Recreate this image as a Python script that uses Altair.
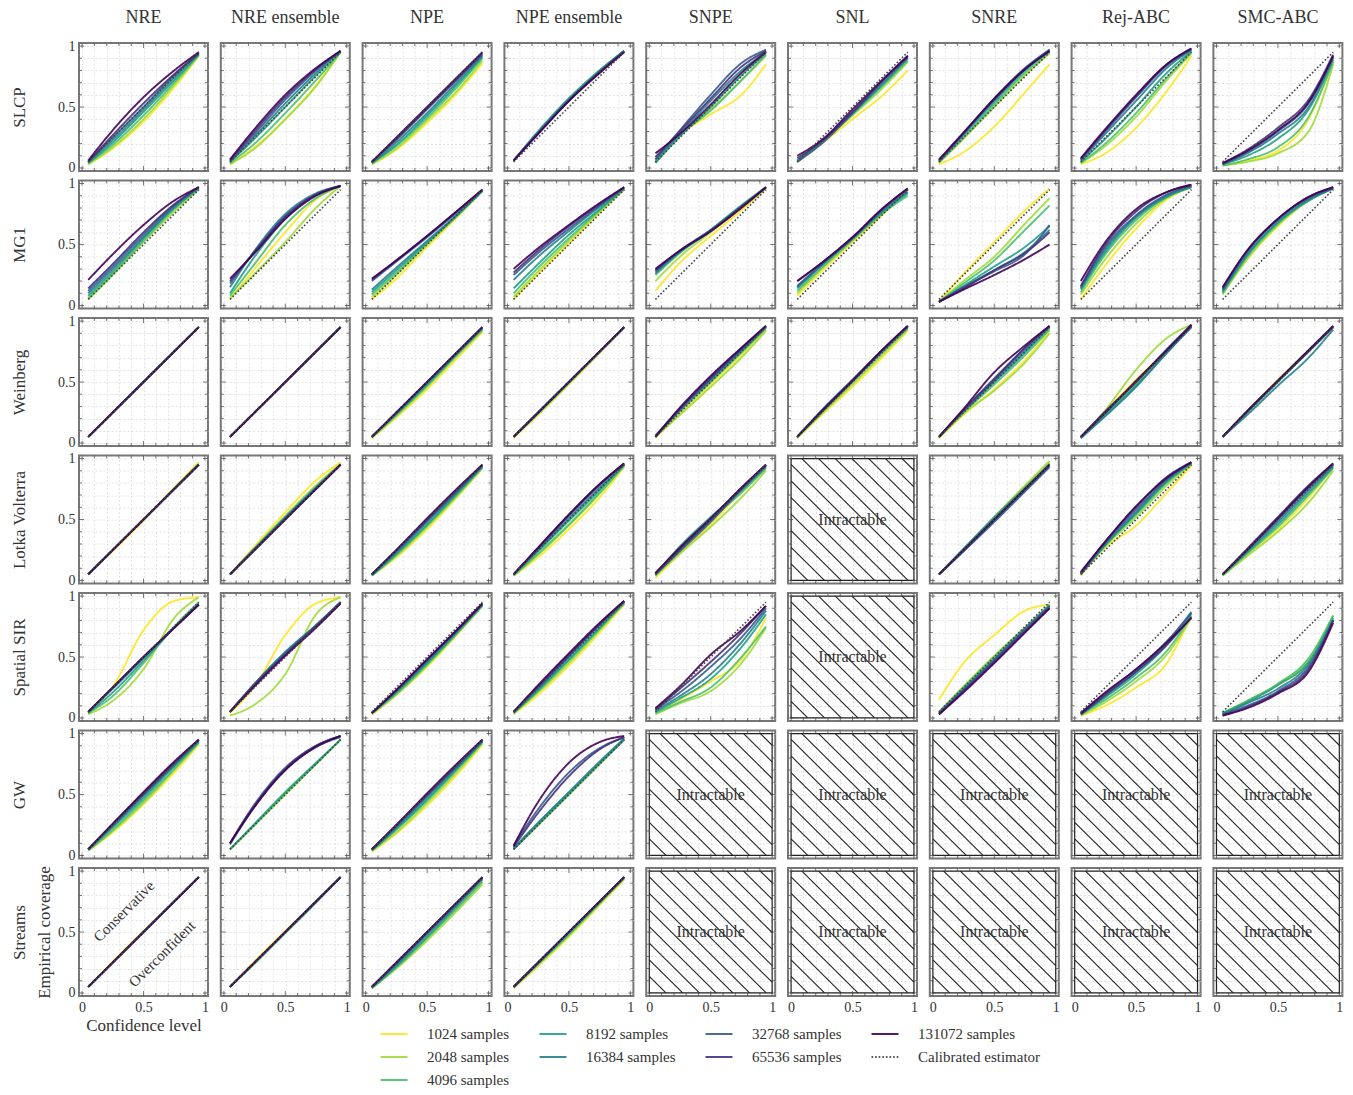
import altair as alt
import pandas as pd

METHODS = ["NRE", "NRE ensemble", "NPE", "NPE ensemble", "SNPE", "SNL", "SNRE", "Rej-ABC", "SMC-ABC"]
SIMULATORS = ["SLCP", "MG1", "Weinberg", "Lotka Volterra", "Spatial SIR", "GW", "Streams"]
BUDGETS = ["1024 samples", "2048 samples", "4096 samples", "8192 samples",
           "16384 samples", "32768 samples", "65536 samples", "131072 samples"]
COLORS = ["#fde725", "#a0da39", "#4ac16d", "#1fa187", "#277f8e", "#365c8d", "#46327e", "#440154"]
CALIB_NAME = "Calibrated estimator"
CONF = [0.05, 0.25, 0.5, 0.75, 0.95]
CALIB = [0.05, 0.95]

# empirical coverage at CONF levels, one list per budget (1024 -> 131072)
SLCP = {
    "NRE": [[0.03, 0.16, 0.38, 0.66, 0.92], [0.03, 0.17, 0.40, 0.68, 0.92], [0.04, 0.19, 0.43, 0.70, 0.93], [0.04, 0.21, 0.46, 0.72, 0.93],
            [0.05, 0.23, 0.48, 0.74, 0.94], [0.05, 0.25, 0.50, 0.76, 0.94], [0.05, 0.27, 0.53, 0.77, 0.94], [0.06, 0.31, 0.58, 0.80, 0.95]],
    "NRE ensemble": [[0.03, 0.17, 0.40, 0.68, 0.95], [0.03, 0.16, 0.40, 0.67, 0.95], [0.04, 0.20, 0.45, 0.72, 0.95], [0.05, 0.24, 0.50, 0.76, 0.95],
                     [0.05, 0.26, 0.53, 0.78, 0.96], [0.06, 0.28, 0.56, 0.80, 0.96], [0.06, 0.30, 0.58, 0.81, 0.96], [0.07, 0.32, 0.60, 0.82, 0.96]],
    "NPE": [[0.03, 0.15, 0.37, 0.62, 0.86], [0.03, 0.16, 0.39, 0.64, 0.88], [0.04, 0.18, 0.41, 0.67, 0.90], [0.04, 0.19, 0.43, 0.69, 0.91],
            [0.04, 0.21, 0.45, 0.71, 0.92], [0.05, 0.23, 0.48, 0.73, 0.93], [0.05, 0.24, 0.49, 0.74, 0.94], [0.05, 0.25, 0.50, 0.75, 0.95]],
    "NPE ensemble": [[0.06, 0.29, 0.56, 0.80, 0.96], [0.06, 0.29, 0.56, 0.80, 0.96], [0.06, 0.30, 0.57, 0.80, 0.96], [0.06, 0.30, 0.57, 0.80, 0.96],
                     [0.06, 0.29, 0.56, 0.79, 0.96], [0.06, 0.29, 0.55, 0.79, 0.96], [0.06, 0.28, 0.55, 0.78, 0.95], [0.06, 0.28, 0.55, 0.78, 0.95]],
    "SNPE": [[0.06, 0.27, 0.44, 0.60, 0.85], [0.06, 0.27, 0.48, 0.72, 0.92], [0.05, 0.27, 0.47, 0.72, 0.93], [0.04, 0.26, 0.50, 0.76, 0.94],
             [0.07, 0.28, 0.55, 0.80, 0.95], [0.07, 0.31, 0.60, 0.86, 0.97], [0.09, 0.30, 0.57, 0.83, 0.96], [0.12, 0.28, 0.52, 0.78, 0.95]],
    "SNL": [[0.05, 0.20, 0.40, 0.60, 0.80], [0.05, 0.21, 0.43, 0.66, 0.87], [0.06, 0.22, 0.44, 0.68, 0.88], [0.05, 0.22, 0.45, 0.69, 0.90],
            [0.06, 0.22, 0.45, 0.70, 0.90], [0.05, 0.20, 0.45, 0.72, 0.92], [0.08, 0.22, 0.46, 0.72, 0.91], [0.10, 0.23, 0.48, 0.73, 0.92]],
    "SNRE": [[0.03, 0.13, 0.34, 0.62, 0.85], [0.04, 0.24, 0.50, 0.76, 0.94], [0.05, 0.25, 0.52, 0.78, 0.95], [0.05, 0.27, 0.54, 0.80, 0.96],
             [0.06, 0.28, 0.56, 0.81, 0.97], [0.06, 0.28, 0.57, 0.82, 0.97], [0.06, 0.29, 0.56, 0.81, 0.96], [0.07, 0.29, 0.57, 0.81, 0.96]],
    "Rej-ABC": [[0.03, 0.12, 0.33, 0.63, 0.92], [0.04, 0.18, 0.42, 0.72, 0.94], [0.04, 0.20, 0.45, 0.74, 0.95], [0.05, 0.24, 0.50, 0.78, 0.96],
                [0.06, 0.28, 0.55, 0.82, 0.97], [0.07, 0.30, 0.58, 0.84, 0.97], [0.07, 0.31, 0.59, 0.85, 0.98], [0.08, 0.32, 0.60, 0.85, 0.98]],
    "SMC-ABC": [[0.02, 0.06, 0.14, 0.40, 0.88], [0.02, 0.05, 0.12, 0.30, 0.85], [0.02, 0.07, 0.17, 0.42, 0.87], [0.03, 0.10, 0.24, 0.48, 0.89],
                [0.03, 0.12, 0.28, 0.50, 0.90], [0.03, 0.13, 0.30, 0.53, 0.91], [0.04, 0.15, 0.33, 0.56, 0.93], [0.04, 0.14, 0.31, 0.54, 0.92]],
}

MG1 = {
    "NRE": [[0.05, 0.26, 0.55, 0.80, 0.96], [0.05, 0.25, 0.52, 0.77, 0.95], [0.06, 0.26, 0.53, 0.79, 0.96], [0.08, 0.28, 0.55, 0.80, 0.96],
            [0.10, 0.30, 0.56, 0.81, 0.97], [0.12, 0.32, 0.58, 0.82, 0.97], [0.14, 0.34, 0.60, 0.83, 0.97], [0.21, 0.42, 0.66, 0.86, 0.97]],
    "NRE ensemble": [[0.05, 0.30, 0.60, 0.87, 0.98], [0.06, 0.26, 0.52, 0.80, 0.98], [0.08, 0.34, 0.66, 0.88, 0.98], [0.10, 0.40, 0.71, 0.91, 0.98],
                     [0.15, 0.45, 0.75, 0.92, 0.98], [0.18, 0.44, 0.73, 0.91, 0.98], [0.20, 0.44, 0.73, 0.91, 0.98], [0.22, 0.43, 0.71, 0.90, 0.98]],
    "NPE": [[0.05, 0.22, 0.48, 0.73, 0.94], [0.07, 0.25, 0.50, 0.74, 0.94], [0.09, 0.27, 0.51, 0.74, 0.94], [0.11, 0.29, 0.52, 0.75, 0.94],
            [0.13, 0.31, 0.53, 0.75, 0.94], [0.20, 0.36, 0.56, 0.77, 0.95], [0.21, 0.37, 0.57, 0.78, 0.95], [0.22, 0.37, 0.57, 0.78, 0.95]],
    "NPE ensemble": [[0.05, 0.26, 0.51, 0.76, 0.95], [0.07, 0.28, 0.53, 0.77, 0.95], [0.10, 0.31, 0.55, 0.78, 0.96], [0.14, 0.34, 0.58, 0.79, 0.96],
                     [0.21, 0.40, 0.61, 0.81, 0.96], [0.25, 0.43, 0.63, 0.82, 0.97], [0.27, 0.45, 0.65, 0.83, 0.97], [0.30, 0.47, 0.66, 0.84, 0.97]],
    "SNPE": [[0.12, 0.35, 0.57, 0.78, 0.96], [0.20, 0.40, 0.60, 0.80, 0.96], [0.25, 0.43, 0.62, 0.82, 0.97], [0.26, 0.44, 0.62, 0.82, 0.97],
             [0.27, 0.44, 0.61, 0.81, 0.97], [0.28, 0.45, 0.62, 0.81, 0.97], [0.29, 0.45, 0.61, 0.81, 0.97], [0.30, 0.45, 0.61, 0.80, 0.97]],
    "SNL": [[0.08, 0.28, 0.52, 0.75, 0.95], [0.10, 0.30, 0.53, 0.76, 0.94], [0.12, 0.31, 0.54, 0.76, 0.90], [0.14, 0.33, 0.55, 0.77, 0.92],
            [0.15, 0.33, 0.55, 0.78, 0.93], [0.16, 0.34, 0.55, 0.79, 0.95], [0.20, 0.35, 0.56, 0.80, 0.96], [0.20, 0.35, 0.56, 0.80, 0.96]],
    "SNRE": [[0.03, 0.26, 0.52, 0.78, 0.96], [0.03, 0.20, 0.40, 0.67, 0.88], [0.03, 0.18, 0.37, 0.62, 0.82], [0.03, 0.16, 0.32, 0.48, 0.65],
             [0.03, 0.15, 0.29, 0.44, 0.62], [0.03, 0.15, 0.28, 0.42, 0.66], [0.03, 0.14, 0.29, 0.43, 0.60], [0.03, 0.13, 0.25, 0.38, 0.50]],
    "Rej-ABC": [[0.05, 0.33, 0.63, 0.87, 0.97], [0.09, 0.38, 0.67, 0.88, 0.97], [0.11, 0.42, 0.70, 0.89, 0.97], [0.13, 0.44, 0.72, 0.89, 0.97],
                [0.14, 0.46, 0.73, 0.90, 0.98], [0.15, 0.48, 0.74, 0.91, 0.98], [0.16, 0.50, 0.77, 0.93, 0.99], [0.20, 0.52, 0.79, 0.93, 0.99]],
    "SMC-ABC": [[0.10, 0.38, 0.65, 0.86, 0.96], [0.09, 0.38, 0.66, 0.86, 0.96], [0.10, 0.40, 0.67, 0.86, 0.96], [0.11, 0.41, 0.68, 0.86, 0.96],
                [0.12, 0.42, 0.69, 0.87, 0.96], [0.13, 0.44, 0.71, 0.88, 0.96], [0.14, 0.45, 0.71, 0.89, 0.97], [0.15, 0.45, 0.71, 0.89, 0.97]],
}

WEINBERG = {
    "NRE": [[0.05, 0.25, 0.50, 0.75, 0.95], [0.05, 0.25, 0.50, 0.75, 0.95], [0.05, 0.25, 0.50, 0.75, 0.95], [0.05, 0.25, 0.50, 0.75, 0.95],
            [0.05, 0.25, 0.50, 0.75, 0.95], [0.05, 0.25, 0.50, 0.75, 0.95], [0.05, 0.25, 0.50, 0.75, 0.95], [0.05, 0.25, 0.50, 0.75, 0.95]],
    "NRE ensemble": [[0.05, 0.25, 0.50, 0.75, 0.95], [0.05, 0.25, 0.50, 0.75, 0.95], [0.05, 0.25, 0.50, 0.75, 0.95], [0.05, 0.25, 0.50, 0.75, 0.95],
                     [0.05, 0.25, 0.50, 0.75, 0.95], [0.05, 0.25, 0.50, 0.75, 0.95], [0.05, 0.25, 0.50, 0.75, 0.95], [0.05, 0.25, 0.50, 0.75, 0.95]],
    "NPE": [[0.04, 0.21, 0.44, 0.70, 0.91], [0.04, 0.22, 0.46, 0.72, 0.92], [0.05, 0.23, 0.47, 0.73, 0.93], [0.05, 0.24, 0.48, 0.74, 0.94],
            [0.05, 0.24, 0.49, 0.74, 0.94], [0.05, 0.25, 0.50, 0.75, 0.95], [0.05, 0.25, 0.50, 0.75, 0.95], [0.05, 0.25, 0.50, 0.75, 0.95]],
    "NPE ensemble": [[0.04, 0.23, 0.48, 0.74, 0.95], [0.05, 0.24, 0.49, 0.74, 0.95], [0.05, 0.24, 0.49, 0.75, 0.95], [0.05, 0.25, 0.50, 0.75, 0.95],
                     [0.05, 0.25, 0.50, 0.75, 0.95], [0.05, 0.25, 0.50, 0.75, 0.95], [0.05, 0.25, 0.50, 0.75, 0.95], [0.05, 0.25, 0.50, 0.75, 0.95]],
    "SNPE": [[0.04, 0.24, 0.48, 0.72, 0.93], [0.05, 0.23, 0.46, 0.70, 0.92], [0.05, 0.26, 0.50, 0.74, 0.94], [0.05, 0.27, 0.51, 0.75, 0.95],
             [0.06, 0.27, 0.52, 0.76, 0.95], [0.06, 0.28, 0.54, 0.78, 0.96], [0.05, 0.28, 0.53, 0.77, 0.96], [0.05, 0.29, 0.55, 0.78, 0.96]],
    "SNL": [[0.04, 0.23, 0.46, 0.71, 0.92], [0.04, 0.24, 0.48, 0.73, 0.93], [0.05, 0.25, 0.50, 0.75, 0.94], [0.05, 0.26, 0.51, 0.76, 0.95],
            [0.05, 0.26, 0.51, 0.76, 0.95], [0.05, 0.27, 0.52, 0.77, 0.96], [0.05, 0.26, 0.51, 0.77, 0.96], [0.05, 0.26, 0.51, 0.77, 0.96]],
    "SNRE": [[0.04, 0.23, 0.44, 0.68, 0.92], [0.04, 0.24, 0.43, 0.66, 0.90], [0.05, 0.25, 0.48, 0.72, 0.93], [0.05, 0.26, 0.50, 0.74, 0.95],
             [0.05, 0.26, 0.51, 0.76, 0.95], [0.05, 0.27, 0.53, 0.78, 0.96], [0.05, 0.27, 0.52, 0.78, 0.96], [0.05, 0.28, 0.58, 0.80, 0.96]],
    "Rej-ABC": [[0.04, 0.26, 0.52, 0.76, 0.96], [0.04, 0.27, 0.60, 0.86, 0.97], [0.04, 0.24, 0.48, 0.74, 0.95], [0.04, 0.23, 0.47, 0.74, 0.96],
                [0.04, 0.22, 0.46, 0.74, 0.95], [0.05, 0.25, 0.50, 0.77, 0.97], [0.05, 0.26, 0.50, 0.76, 0.96], [0.05, 0.25, 0.51, 0.76, 0.97]],
    "SMC-ABC": [[0.05, 0.26, 0.52, 0.76, 0.95], [0.05, 0.25, 0.51, 0.75, 0.95], [0.05, 0.26, 0.51, 0.76, 0.95], [0.05, 0.25, 0.50, 0.75, 0.95],
                [0.05, 0.23, 0.47, 0.70, 0.93], [0.05, 0.26, 0.51, 0.75, 0.95], [0.05, 0.26, 0.51, 0.76, 0.96], [0.05, 0.26, 0.51, 0.76, 0.96]],
}

LOTKA = {
    "NRE": [[0.05, 0.24, 0.49, 0.76, 0.97], [0.05, 0.25, 0.50, 0.76, 0.96], [0.05, 0.25, 0.50, 0.75, 0.95], [0.05, 0.25, 0.50, 0.75, 0.95],
            [0.05, 0.25, 0.50, 0.75, 0.95], [0.05, 0.25, 0.50, 0.75, 0.95], [0.05, 0.25, 0.50, 0.75, 0.95], [0.05, 0.25, 0.50, 0.75, 0.95]],
    "NRE ensemble": [[0.05, 0.28, 0.56, 0.82, 0.97], [0.05, 0.27, 0.53, 0.78, 0.96], [0.05, 0.26, 0.52, 0.77, 0.95], [0.05, 0.26, 0.52, 0.76, 0.95],
                     [0.05, 0.26, 0.51, 0.76, 0.95], [0.05, 0.25, 0.51, 0.75, 0.95], [0.05, 0.25, 0.50, 0.75, 0.95], [0.05, 0.25, 0.50, 0.75, 0.95]],
    "NPE": [[0.04, 0.19, 0.42, 0.69, 0.92], [0.04, 0.20, 0.44, 0.70, 0.92], [0.04, 0.21, 0.45, 0.71, 0.93], [0.04, 0.22, 0.46, 0.72, 0.93],
            [0.05, 0.23, 0.48, 0.73, 0.94], [0.05, 0.24, 0.49, 0.74, 0.94], [0.05, 0.25, 0.50, 0.75, 0.95], [0.05, 0.25, 0.51, 0.76, 0.95]],
    "NPE ensemble": [[0.04, 0.19, 0.42, 0.68, 0.93], [0.04, 0.21, 0.45, 0.71, 0.94], [0.04, 0.22, 0.46, 0.72, 0.94], [0.05, 0.24, 0.49, 0.74, 0.95],
                     [0.05, 0.25, 0.51, 0.76, 0.95], [0.05, 0.26, 0.53, 0.78, 0.96], [0.05, 0.27, 0.54, 0.79, 0.96], [0.05, 0.27, 0.54, 0.79, 0.96]],
    "SNPE": [[0.02, 0.22, 0.46, 0.73, 0.93], [0.04, 0.22, 0.44, 0.68, 0.90], [0.04, 0.25, 0.50, 0.72, 0.92], [0.05, 0.28, 0.52, 0.74, 0.93],
             [0.05, 0.25, 0.49, 0.74, 0.94], [0.05, 0.24, 0.48, 0.75, 0.94], [0.06, 0.26, 0.50, 0.76, 0.95], [0.06, 0.27, 0.51, 0.76, 0.95]],
    "SNRE": [[0.05, 0.25, 0.51, 0.77, 0.97], [0.05, 0.25, 0.52, 0.78, 0.98], [0.05, 0.26, 0.51, 0.76, 0.96], [0.05, 0.26, 0.52, 0.76, 0.95],
             [0.05, 0.24, 0.49, 0.74, 0.94], [0.05, 0.24, 0.48, 0.73, 0.93], [0.05, 0.25, 0.50, 0.75, 0.95], [0.05, 0.25, 0.50, 0.75, 0.95]],
    "Rej-ABC": [[0.04, 0.27, 0.45, 0.72, 0.94], [0.05, 0.28, 0.52, 0.78, 0.95], [0.05, 0.29, 0.54, 0.80, 0.96], [0.05, 0.29, 0.55, 0.81, 0.96],
                [0.05, 0.30, 0.56, 0.82, 0.96], [0.06, 0.31, 0.58, 0.83, 0.97], [0.06, 0.32, 0.60, 0.85, 0.97], [0.07, 0.32, 0.61, 0.84, 0.97]],
    "SMC-ABC": [[0.04, 0.21, 0.42, 0.68, 0.93], [0.04, 0.20, 0.40, 0.64, 0.90], [0.04, 0.22, 0.44, 0.70, 0.92], [0.05, 0.23, 0.46, 0.72, 0.93],
                [0.05, 0.24, 0.48, 0.74, 0.94], [0.05, 0.25, 0.50, 0.76, 0.95], [0.05, 0.26, 0.52, 0.78, 0.96], [0.05, 0.25, 0.51, 0.77, 0.96]],
}

SPATIAL_SIR = {
    "NRE": [[0.05, 0.26, 0.72, 0.96, 0.99], [0.03, 0.14, 0.40, 0.82, 0.99], [0.04, 0.18, 0.45, 0.75, 0.95], [0.04, 0.21, 0.47, 0.74, 0.94],
            [0.05, 0.24, 0.49, 0.74, 0.93], [0.05, 0.25, 0.50, 0.74, 0.93], [0.05, 0.25, 0.50, 0.74, 0.93], [0.05, 0.25, 0.50, 0.74, 0.93]],
    "NRE ensemble": [[0.04, 0.26, 0.68, 0.94, 0.99], [0.02, 0.11, 0.36, 0.85, 0.99], [0.05, 0.27, 0.53, 0.76, 0.95], [0.05, 0.28, 0.54, 0.76, 0.95],
                     [0.05, 0.28, 0.54, 0.76, 0.95], [0.05, 0.28, 0.53, 0.76, 0.95], [0.05, 0.27, 0.52, 0.75, 0.94], [0.05, 0.26, 0.51, 0.74, 0.94]],
    "NPE": [[0.03, 0.19, 0.42, 0.69, 0.92], [0.03, 0.19, 0.43, 0.70, 0.92], [0.04, 0.20, 0.44, 0.70, 0.92], [0.04, 0.21, 0.45, 0.71, 0.93],
            [0.04, 0.22, 0.46, 0.72, 0.93], [0.04, 0.22, 0.47, 0.72, 0.93], [0.04, 0.23, 0.48, 0.73, 0.94], [0.04, 0.23, 0.48, 0.73, 0.94]],
    "NPE ensemble": [[0.03, 0.19, 0.43, 0.70, 0.93], [0.04, 0.21, 0.45, 0.72, 0.94], [0.04, 0.22, 0.47, 0.73, 0.94], [0.04, 0.23, 0.48, 0.74, 0.95],
                     [0.05, 0.24, 0.50, 0.76, 0.95], [0.05, 0.25, 0.51, 0.77, 0.96], [0.05, 0.26, 0.52, 0.77, 0.96], [0.05, 0.27, 0.53, 0.78, 0.96]],
    "SNPE": [[0.04, 0.15, 0.30, 0.48, 0.82], [0.03, 0.12, 0.22, 0.45, 0.74], [0.04, 0.13, 0.25, 0.50, 0.75], [0.05, 0.16, 0.32, 0.58, 0.85],
             [0.06, 0.18, 0.36, 0.62, 0.88], [0.07, 0.21, 0.42, 0.66, 0.90], [0.07, 0.24, 0.46, 0.70, 0.92], [0.08, 0.26, 0.52, 0.72, 0.92]],
    "SNRE": [[0.15, 0.45, 0.68, 0.88, 0.93], [0.05, 0.26, 0.51, 0.74, 0.92], [0.05, 0.25, 0.50, 0.74, 0.93], [0.04, 0.24, 0.48, 0.72, 0.92],
             [0.03, 0.23, 0.47, 0.72, 0.91], [0.04, 0.23, 0.48, 0.73, 0.92], [0.03, 0.22, 0.46, 0.71, 0.90], [0.03, 0.21, 0.45, 0.70, 0.90]],
    "Rej-ABC": [[0.02, 0.10, 0.25, 0.45, 0.85], [0.02, 0.13, 0.30, 0.52, 0.82], [0.03, 0.15, 0.33, 0.55, 0.84], [0.03, 0.17, 0.36, 0.60, 0.86],
                [0.03, 0.18, 0.38, 0.62, 0.87], [0.04, 0.20, 0.40, 0.63, 0.86], [0.03, 0.19, 0.38, 0.60, 0.83], [0.04, 0.21, 0.40, 0.62, 0.82]],
    "SMC-ABC": [[0.04, 0.14, 0.27, 0.46, 0.82], [0.04, 0.14, 0.28, 0.48, 0.84], [0.04, 0.14, 0.28, 0.49, 0.84], [0.04, 0.13, 0.27, 0.46, 0.82],
                [0.03, 0.12, 0.24, 0.44, 0.80], [0.03, 0.10, 0.22, 0.42, 0.80], [0.02, 0.09, 0.21, 0.40, 0.80], [0.02, 0.08, 0.20, 0.38, 0.78]],
}

GW = {
    "NRE": [[0.04, 0.19, 0.42, 0.68, 0.91], [0.04, 0.20, 0.43, 0.70, 0.92], [0.04, 0.21, 0.45, 0.71, 0.93], [0.05, 0.23, 0.47, 0.73, 0.93],
            [0.05, 0.24, 0.49, 0.74, 0.94], [0.05, 0.25, 0.50, 0.75, 0.95], [0.05, 0.26, 0.51, 0.76, 0.95], [0.05, 0.26, 0.52, 0.77, 0.95]],
    "NRE ensemble": [[0.05, 0.25, 0.50, 0.75, 0.95], [0.05, 0.25, 0.50, 0.75, 0.95], [0.05, 0.25, 0.51, 0.75, 0.95], [0.05, 0.26, 0.52, 0.76, 0.95],
                     [0.09, 0.40, 0.70, 0.89, 0.97], [0.10, 0.42, 0.72, 0.90, 0.98], [0.10, 0.41, 0.71, 0.90, 0.98], [0.10, 0.40, 0.70, 0.89, 0.98]],
    "NPE": [[0.03, 0.18, 0.41, 0.67, 0.91], [0.04, 0.19, 0.43, 0.69, 0.92], [0.04, 0.21, 0.45, 0.71, 0.93], [0.04, 0.22, 0.46, 0.72, 0.93],
            [0.05, 0.23, 0.48, 0.73, 0.94], [0.05, 0.24, 0.49, 0.74, 0.94], [0.05, 0.25, 0.50, 0.75, 0.95], [0.05, 0.25, 0.51, 0.76, 0.95]],
    "NPE ensemble": [[0.05, 0.25, 0.50, 0.75, 0.95], [0.05, 0.25, 0.50, 0.75, 0.95], [0.05, 0.25, 0.50, 0.75, 0.95], [0.05, 0.26, 0.51, 0.76, 0.95],
                     [0.06, 0.27, 0.52, 0.77, 0.96], [0.08, 0.38, 0.68, 0.88, 0.97], [0.07, 0.35, 0.65, 0.87, 0.97], [0.08, 0.44, 0.76, 0.93, 0.98]],
}

STREAMS = {
    "NRE": [[0.05, 0.26, 0.51, 0.75, 0.95], [0.05, 0.25, 0.50, 0.75, 0.95], [0.05, 0.25, 0.50, 0.75, 0.95], [0.05, 0.25, 0.50, 0.75, 0.95],
            [0.05, 0.25, 0.50, 0.75, 0.95], [0.05, 0.25, 0.50, 0.75, 0.95], [0.05, 0.25, 0.50, 0.75, 0.95], [0.05, 0.25, 0.50, 0.75, 0.95]],
    "NRE ensemble": [[0.05, 0.26, 0.51, 0.75, 0.95], [0.05, 0.25, 0.50, 0.75, 0.95], [0.05, 0.24, 0.49, 0.74, 0.95], [0.05, 0.25, 0.50, 0.75, 0.95],
                     [0.05, 0.25, 0.50, 0.75, 0.95], [0.05, 0.25, 0.50, 0.75, 0.95], [0.05, 0.25, 0.50, 0.75, 0.95], [0.05, 0.25, 0.50, 0.75, 0.95]],
    "NPE": [[0.04, 0.21, 0.45, 0.71, 0.92], [0.04, 0.20, 0.43, 0.68, 0.89], [0.04, 0.21, 0.45, 0.70, 0.91], [0.04, 0.22, 0.46, 0.72, 0.93],
            [0.05, 0.23, 0.48, 0.73, 0.94], [0.05, 0.24, 0.49, 0.74, 0.94], [0.05, 0.25, 0.50, 0.75, 0.95], [0.05, 0.25, 0.50, 0.75, 0.95]],
    "NPE ensemble": [[0.04, 0.22, 0.46, 0.72, 0.93], [0.04, 0.23, 0.47, 0.73, 0.94], [0.05, 0.24, 0.48, 0.74, 0.94], [0.05, 0.24, 0.49, 0.74, 0.95],
                     [0.05, 0.25, 0.50, 0.75, 0.95], [0.05, 0.25, 0.50, 0.75, 0.95], [0.05, 0.25, 0.50, 0.75, 0.95], [0.05, 0.25, 0.50, 0.75, 0.95]],
}

ROWS = {"SLCP": SLCP, "MG1": MG1, "Weinberg": WEINBERG, "Lotka Volterra": LOTKA,
        "Spatial SIR": SPATIAL_SIR, "GW": GW, "Streams": STREAMS}

GRID_VALUES = [0.0, 0.1, 0.2, 0.3, 0.4, 0.5, 0.6, 0.7, 0.8, 0.9, 1.0]
MAJOR_TICKS = [0.0, 0.5, 1.0]
HATCH_OFFSETS = [0.136, 0.272, 0.408, 0.544, 0.68, 0.816, 0.952, 1.088, 1.224, 1.36, 1.496, 1.632, 1.768, 1.904]
ANNOTATIONS = {"label": ["Conservative", "Overconfident"], "x": [0.34, 0.65], "y": [0.67, 0.32]}

FONT = "Liberation Serif"
TEXT_COLOR = "#333333"
W, H = 129, 128
DOMAIN = [-0.025, 1.025]

# legend entries, in the order they are read column by column in the reference
LEGEND_ORDER = [BUDGETS[0], BUDGETS[3], BUDGETS[5], BUDGETS[7],
                BUDGETS[1], BUDGETS[4], BUDGETS[6], CALIB_NAME, BUDGETS[2]]
color_of = dict(zip(BUDGETS, COLORS))
color_of[CALIB_NAME] = "#444444"
LEGEND_COLORS = [color_of[k] for k in LEGEND_ORDER]
LEGEND_DASH = [[1.6, 2.0] if k == CALIB_NAME else [1, 0] for k in LEGEND_ORDER]

LABEL_EXPR = "datum.value == 0 ? '0' : (datum.value == 0.5 ? '0.5' : (datum.value == 1 ? '1' : ''))"

legend = alt.Legend(title=None, orient="none", legendX=300, legendY=976, columns=4, direction="horizontal",
                    symbolType="stroke", symbolSize=729, symbolStrokeWidth=2.2,
                    labelFont=FONT, labelFontSize=15, labelColor=TEXT_COLOR,
                    columnPadding=25, rowPadding=-11.4, labelOffset=18)
color_enc = alt.Color("series:N", scale=alt.Scale(domain=LEGEND_ORDER, range=LEGEND_COLORS), legend=legend)
dash_enc = alt.StrokeDash("series:N", scale=alt.Scale(domain=LEGEND_ORDER, range=LEGEND_DASH), legend=legend)

tick_df = pd.DataFrame({"v": GRID_VALUES,
                        "len": [10 if v in MAJOR_TICKS else 6 for v in GRID_VALUES]})


def axes(r, c):
    last_row = r == len(SIMULATORS) - 1
    first_col = c == 0
    common = dict(values=GRID_VALUES, grid=True, gridColor="#dcdcdc", gridDash=[2, 2], gridWidth=0.8,
                  ticks=False, domain=False, labelExpr=LABEL_EXPR,
                  labelFont=FONT, labelFontSize=14, labelColor=TEXT_COLOR,
                  labelFlush=False, titleFont=FONT, titleFontSize=17, titleFontWeight="normal",
                  titleColor=TEXT_COLOR)
    xkw = dict(common, labels=last_row, labelPadding=4, titlePadding=3)
    ykw = dict(common, labels=first_col, labelPadding=4, titlePadding=4.5, titleLineHeight=25)
    xkw["title"] = "Confidence level" if (last_row and first_col) else None
    if first_col:
        sim = SIMULATORS[r]
        ykw["title"] = [sim, "Empirical coverage"] if last_row else [sim, " "]
    else:
        ykw["title"] = None
    return alt.Axis(**xkw), alt.Axis(**ykw)


def xs(field, ax):
    return alt.X(field, type="quantitative", scale=alt.Scale(domain=DOMAIN, nice=False, zero=False), axis=ax)


def ys(field, ax):
    return alt.Y(field, type="quantitative", scale=alt.Scale(domain=DOMAIN, nice=False, zero=False), axis=ax)


def tick_layers(xa, ya):
    base = alt.Chart(tick_df)
    size = alt.Size("len:Q", scale=None)
    kw = dict(clip=True, color="#444444", thickness=1)
    t1 = base.mark_tick(orient="vertical", **kw).encode(x=xs("v", xa), y=alt.value(0), size=size)
    t2 = base.mark_tick(orient="vertical", **kw).encode(x=xs("v", xa), y=alt.value(H), size=size)
    t3 = base.mark_tick(orient="horizontal", **kw).encode(y=ys("v", ya), x=alt.value(0), size=size)
    t4 = base.mark_tick(orient="horizontal", **kw).encode(y=ys("v", ya), x=alt.value(W), size=size)
    return [t1, t2, t3, t4]


def panel(r, c):
    sim, meth = SIMULATORS[r], METHODS[c]
    xa, ya = axes(r, c)
    cell = ROWS[sim].get(meth)
    layers = []
    if cell is not None:
        rows = []
        for b, series in zip(BUDGETS, cell):
            for xv, yv in zip(CONF, series):
                rows.append({"x": xv, "y": yv, "series": b})
        df = pd.DataFrame(rows)
        layers.append(alt.Chart(df).mark_line(strokeWidth=1.9, opacity=0.9, interpolate="monotone").encode(
            x=xs("x", xa), y=ys("y", ya), color=color_enc, strokeDash=dash_enc))
        diag = pd.DataFrame({"x": CALIB, "y": CALIB, "series": [CALIB_NAME, CALIB_NAME]})
        layers.append(alt.Chart(diag).mark_line(strokeWidth=1.6).encode(
            x=xs("x", xa), y=ys("y", ya), color=color_enc, strokeDash=dash_enc))
        if sim == "Streams" and meth == "NRE":
            layers.append(alt.Chart(pd.DataFrame(ANNOTATIONS)).mark_text(
                angle=315, font=FONT, fontSize=15, color=TEXT_COLOR).encode(
                x=xs("x", xa), y=ys("y", ya), text="label:N"))
    else:
        hrows = []
        for cval in HATCH_OFFSETS:
            x1 = max(0.0, cval - 1.0)
            x2 = min(1.0, cval)
            hrows.append({"x": x1, "y": cval - x1, "x2": x2, "y2": cval - x2})
        hdf = pd.DataFrame(hrows)
        layers.append(alt.Chart(hdf).mark_rule(color="#222222", strokeWidth=1.1).encode(
            x=xs("x", xa), y=ys("y", ya), x2="x2:Q", y2="y2:Q"))
        box = pd.DataFrame({"x": [0.0], "x2": [1.0], "y": [0.0], "y2": [1.0]})
        layers.append(alt.Chart(box).mark_rect(fillOpacity=0, stroke="#222222", strokeWidth=1.2).encode(
            x=xs("x", xa), y=ys("y", ya), x2="x2:Q", y2="y2:Q"))
        lab = pd.DataFrame({"x": [0.5], "y": [0.5], "t": ["Intractable"]})
        layers.append(alt.Chart(lab).mark_text(font=FONT, fontSize=16, color=TEXT_COLOR).encode(
            x=xs("x", xa), y=ys("y", ya), text="t:N"))
    layers += tick_layers(xa, ya)
    ch = alt.layer(*layers).properties(width=W, height=H)
    if r == 0:
        # the first column's title sits above its y labels, so it gets a smaller offset
        off = 12 if c == 0 else 16
        ch = ch.properties(title=alt.TitleParams(meth, font=FONT, fontSize=18, fontWeight="normal",
                                                 color=TEXT_COLOR, offset=off, frame="group"))
    return ch


panels = [panel(r, c) for r in range(len(SIMULATORS)) for c in range(len(METHODS))]

chart = alt.concat(*panels, columns=len(METHODS), spacing={"row": 9.5, "column": 12.8}, bounds="flush").properties(
    padding={"left": 1, "top": 0, "right": 0, "bottom": 0}
).configure_view(stroke="#777777", strokeWidth=2)

chart.save("out.html", embed_options={"renderer": "svg", "actions": False})
